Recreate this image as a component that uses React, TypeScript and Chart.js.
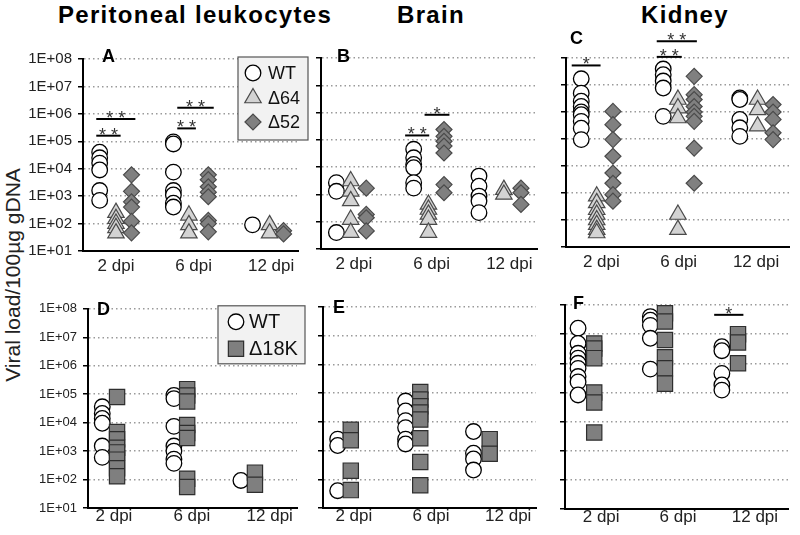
import React, { useEffect, useRef } from 'react';
import { Chart, registerables } from 'chart.js';

Chart.register(...registerables);

// ---------- text ----------
const days = ['2 dpi', '6 dpi', '12 dpi'];
const yTickValues = [1e1, 1e2, 1e3, 1e4, 1e5, 1e6, 1e7, 1e8];
const yTickLabels = ['1E+01', '1E+02', '1E+03', '1E+04', '1E+05', '1E+06', '1E+07', '1E+08'];
const columnTitles = ['Peritoneal leukocytes', 'Brain', 'Kidney'];
const yAxisTitle = 'Viral load/100µg gDNA';
const seriesTop = ['WT', 'Δ64', 'Δ52'];
const seriesBottom = ['WT', 'Δ18K'];

// ---------- data (per day: 2 dpi, 6 dpi, 12 dpi) ----------
// A - Peritoneal leukocytes
const periWT = [[40000, 25000, 16000, 9000, 1600, 700], [95000, 80000, 7500, 1600, 1100, 550, 400], [90]];
const periD64 = [[250, 150, 100, 70, 45], [200, 90, 45], [90, 45]];
const periD52 = [[6000, 1500, 620, 400, 120, 46], [6000, 4000, 2200, 1400, 950, 130, 100, 50], [55, 42]];
// B - Brain
const brainWT = [[2700, 1300, 40], [45000, 22000, 12500, 9500, 2700, 1700], [4700, 2000, 870, 570, 215]];
const brainD64 = [[3100, 1300, 580, 120, 40], [430, 280, 185, 120, 40], [1500, 1000]];
const brainD52 = [[1700, 185, 140, 46], [240000, 135000, 89000, 59000, 33000, 2300, 1150], [1700, 1150, 430]];
// C - Kidney
const kidWT = [[17000000, 5000000, 2500000, 1600000, 1000000, 790000, 450000, 250000, 95000], [39000000, 24000000, 14000000, 7700000, 690000], [3300000, 2900000, 530000, 260000, 125000]];
const kidD64 = [[760, 430, 240, 160, 100, 67, 44, 33], [2900000, 1400000, 600000, 160, 44], [2900000, 1200000, 300000]];
const kidD52 = [[1050000, 340000, 95000, 23000, 5500, 2300, 870, 500], [21000000, 4400000, 2900000, 1600000, 1000000, 690000, 450000, 46000, 2300], [1900000, 1000000, 530000, 170000, 95000]];
// D - Peritoneal leukocytes
const periWT2 = [[36000, 21000, 14000, 9500, 1500, 600], [91000, 70000, 7400, 1500, 1000, 520, 370], [93]];
const periD18K = [[80000, 4700, 2600, 1300, 900, 500, 250, 130], [150000, 90000, 55000, 8300, 4300, 2900, 107, 55], [175, 66]];
// E - Brain
const brainWT2 = [[2500, 1500, 40], [53000, 24000, 11000, 6300, 2500, 1700], [4600, 810, 510, 210]];
const brainD18K = [[5300, 2300, 200, 42], [110000, 60000, 35000, 21000, 12000, 2700, 400, 62], [2500, 770]];
// F - Kidney
const kidWT2 = [[16000000, 4800000, 2200000, 1500000, 1000000, 670000, 350000, 230000, 82000], [40000000, 30000000, 20000000, 7200000, 630000], [3700000, 2700000, 450000, 180000, 120000]];
const kidD18K = [[4800000, 3200000, 1500000, 100000, 45000, 4200], [52000000, 27000000, 6300000, 1600000, 680000, 200000], [10000000, 5200000, 1000000]];

// ---------- styles ----------
const FONT = '"Liberation Sans", Arial, Helvetica, sans-serif';
const STYLES: Record<string, any> = {
  'WT': { shape: 'circle', r: 7.8, bg: '#ffffff', border: '#000000', bw: 1.3 },
  'Δ64': { shape: 'triangle', r: 9.5, bg: '#d3d3d3', border: '#4a4a4a', bw: 1.2 },
  'Δ52': { shape: 'rectRot', r: 8, bg: '#808080', border: '#4a4a4a', bw: 1.2 },
  'Δ18K': { shape: 'rect', r: 10.8, bg: '#7f7f7f', border: '#2e2e2e', bw: 1.2 },
};

const panels = [
  {
    letter: 'A', series: seriesTop, values: [periWT, periD64, periD52],
    slots: [[0.79, 1.74, 2.76], [1.0, 1.94, 2.98], [1.2, 2.19, 3.16]],
    xMin: 0.575, xMax: 3.35, L: 83, R: 307, T: 59, B: 251, W: 83, padTop: 30, padRight: 2, xH: 30,
    yLabels: true, yFont: 15, xPad: 5, letterAt: [19, -2],
    sig: [
      { x1: 0.746, x2: 1.06, y: 1.6e5, text: '* *' },
      { x1: 0.746, x2: 1.25, y: 6.5e5, text: '* *' },
      { x1: 1.79, x2: 2.03, y: 2.95e5, text: '* *' },
      { x1: 1.79, x2: 2.26, y: 1.66e6, text: '* *' },
    ],
    legend: { dx: 155, dy: -2, w: 70, h: 83, mx: 15, tx: 30, rows: [16, 41, 65], font: 18 },
  },
  {
    letter: 'B', series: seriesTop, values: [brainWT, brainD64, brainD52],
    slots: [[0.776, 1.77, 2.61], [0.96, 1.96, 2.93], [1.16, 2.16, 3.15]],
    xMin: 0.578, xMax: 3.36, L: 321, R: 546, T: 58, B: 249, W: 20, padTop: 30, padRight: 2, xH: 30,
    yLabels: false, yFont: 15, xPad: 5, letterAt: [16, -1],
    sig: [
      { x1: 1.66, x2: 1.97, y: 1.45e5, text: '* *' },
      { x1: 1.91, x2: 2.23, y: 8.3e5, text: '*' },
    ],
    legend: null,
  },
  {
    letter: 'C', series: seriesTop, values: [kidWT, kidD64, kidD52],
    slots: [[0.74, 1.8, 2.79], [0.94, 1.99, 3.02], [1.15, 2.2, 3.22]],
    xMin: 0.543, xMax: 3.43, L: 566, R: 799, T: 58, B: 247, W: 20, padTop: 40, padRight: 1, xH: 30,
    yLabels: false, yFont: 15, xPad: 5, letterAt: [4, -19],
    sig: [
      { x1: 0.617, x2: 0.99, y: 5.3e7, text: '*' },
      { x1: 1.716, x2: 2.04, y: 1.1e8, text: '* *' },
      { x1: 1.716, x2: 2.235, y: 4.2e8, text: '* *' },
    ],
    legend: null,
  },
  {
    letter: 'D', series: seriesBottom, values: [periWT2, periD18K],
    slots: [[0.85, 1.77, 2.63], [1.04, 1.94, 2.81]],
    xMin: 0.667, xMax: 3.35, L: 88, R: 307, T: 305, B: 508, W: 88, padTop: 10, padRight: 2, xH: 27,
    yLabels: true, yFont: 13, xPad: -2, letterAt: [9, 1],
    sig: [],
    legend: { dx: 130, dy: -3, w: 87, h: 58, mx: 18, tx: 31, rows: [16, 43], font: 20 },
  },
  {
    letter: 'E', series: seriesBottom, values: [brainWT2, brainD18K],
    slots: [[0.79, 1.67, 2.55], [0.96, 1.86, 2.76]],
    xMin: 0.6, xMax: 3.36, L: 323, R: 546, T: 305, B: 508, W: 20, padTop: 10, padRight: 2, xH: 27,
    yLabels: false, yFont: 13, xPad: -2, letterAt: [10, 1],
    sig: [],
    legend: null,
  },
  {
    letter: 'F', series: seriesBottom, values: [kidWT2, kidD18K],
    slots: [[0.7, 1.64, 2.57], [0.91, 1.83, 2.78]],
    xMin: 0.53, xMax: 3.43, L: 565, R: 799, T: 305, B: 509, W: 20, padTop: 12, padRight: 1, xH: 26,
    yLabels: false, yFont: 13, xPad: -2, letterAt: [8, -1],
    sig: [{ x1: 2.47, x2: 2.85, y: 4.6e7, text: '*' }],
    legend: null,
  },
];

function drawMarker(ctx: CanvasRenderingContext2D, name: string, x: number, y: number) {
  const s = STYLES[name];
  const r = s.r;
  ctx.save();
  ctx.beginPath();
  if (s.shape === 'circle') {
    ctx.arc(x, y, r, 0, Math.PI * 2);
  } else if (s.shape === 'triangle') {
    let a = 0;
    ctx.moveTo(x + Math.sin(a) * r, y - Math.cos(a) * r);
    a += (2 * Math.PI) / 3;
    ctx.lineTo(x + Math.sin(a) * r, y - Math.cos(a) * r);
    a += (2 * Math.PI) / 3;
    ctx.lineTo(x + Math.sin(a) * r, y - Math.cos(a) * r);
    ctx.closePath();
  } else if (s.shape === 'rectRot') {
    ctx.moveTo(x - r, y);
    ctx.lineTo(x, y - r);
    ctx.lineTo(x + r, y);
    ctx.lineTo(x, y + r);
    ctx.closePath();
  } else {
    const h = Math.SQRT1_2 * r;
    ctx.rect(x - h, y - h, 2 * h, 2 * h);
  }
  ctx.fillStyle = s.bg;
  ctx.fill();
  ctx.lineWidth = s.bw;
  ctx.strokeStyle = s.border;
  ctx.stroke();
  ctx.restore();
}

const decorPlugin = {
  id: 'panelDecor',
  afterDatasetsDraw(chart: any, _args: any, opts: any) {
    const { ctx, chartArea: ca } = chart;
    const xs = chart.scales.x;
    const ys = chart.scales.y;
    ctx.save();
    ctx.setLineDash([]);
    // panel letter
    ctx.font = `bold 18px ${FONT}`;
    ctx.fillStyle = '#000';
    ctx.textAlign = 'left';
    ctx.textBaseline = 'middle';
    ctx.fillText(opts.letter, ca.left + opts.letterAt[0], ca.top + opts.letterAt[1]);
    // significance bars
    for (const s of opts.sig) {
      const x1 = xs.getPixelForValue(s.x1);
      const x2 = xs.getPixelForValue(s.x2);
      const yy = ys.getPixelForValue(s.y);
      ctx.strokeStyle = '#000';
      ctx.lineWidth = 2;
      ctx.beginPath();
      ctx.moveTo(x1, yy);
      ctx.lineTo(x2, yy);
      ctx.stroke();
      ctx.font = `18px ${FONT}`;
      ctx.fillStyle = '#333';
      ctx.textAlign = 'center';
      ctx.textBaseline = 'alphabetic';
      ctx.fillText(s.text, (x1 + x2) / 2, yy + 5);
    }
    // legend
    const lg = opts.legend;
    if (lg) {
      const bx = ca.left + lg.dx;
      const by = ca.top + lg.dy;
      ctx.fillStyle = '#f2f2f2';
      ctx.fillRect(bx, by, lg.w, lg.h);
      ctx.strokeStyle = '#555';
      ctx.lineWidth = 1.2;
      ctx.strokeRect(bx, by, lg.w, lg.h);
      opts.series.forEach((name: string, i: number) => {
        const cy = by + lg.rows[i];
        drawMarker(ctx, name, bx + lg.mx, cy);
        ctx.font = `${lg.font}px ${FONT}`;
        ctx.fillStyle = '#111';
        ctx.textAlign = 'left';
        ctx.textBaseline = 'middle';
        ctx.fillText(name, bx + lg.tx, cy + 1);
      });
    }
    ctx.restore();
  },
};

function Panel({ p }: { p: any }) {
  const ref = useRef<HTMLCanvasElement>(null);
  const width = p.W + (p.R - p.L) + p.padRight;
  const height = p.padTop + (p.B - p.T) + p.xH;
  useEffect(() => {
    const datasets = p.series.map((name: string, si: number) => {
      const st = STYLES[name];
      const data: { x: number; y: number }[] = [];
      p.values[si].forEach((dayVals: number[], di: number) => {
        dayVals.forEach((v) => data.push({ x: p.slots[si][di], y: v }));
      });
      return {
        label: name,
        data,
        showLine: false,
        pointStyle: st.shape,
        pointRadius: st.r,
        pointHoverRadius: st.r,
        pointBackgroundColor: st.bg,
        pointBorderColor: st.border,
        pointBorderWidth: st.bw,
        order: p.series.length - si,
        clip: false,
      };
    });
    const chart = new Chart(ref.current as HTMLCanvasElement, {
      type: 'scatter',
      data: { datasets },
      plugins: [decorPlugin],
      options: {
        responsive: false,
        animation: false,
        devicePixelRatio: 1,
        layout: { padding: { top: p.padTop, right: p.padRight, left: 0, bottom: 0 } },
        plugins: {
          legend: { display: false },
          tooltip: { enabled: false },
          panelDecor: { letter: p.letter, letterAt: p.letterAt, sig: p.sig, legend: p.legend, series: p.series },
        } as any,
        scales: {
          x: {
            type: 'linear',
            position: 'bottom',
            min: p.xMin,
            max: p.xMax,
            afterBuildTicks: (s: any) => {
              s.ticks = days.map((_, i) => ({ value: i + 1 }));
            },
            afterFit: (s: any) => {
              s.height = p.xH;
            },
            ticks: {
              autoSkip: false,
              maxRotation: 0,
              padding: p.xPad,
              color: '#222',
              font: { family: FONT, size: 17 },
              callback: (v: any) => days[Math.round(Number(v)) - 1] ?? '',
            },
            grid: { display: false, drawTicks: false },
            border: { display: true, color: '#000', width: 2 },
          },
          y: {
            type: 'logarithmic',
            position: 'left',
            min: yTickValues[0],
            max: yTickValues[yTickValues.length - 1],
            afterBuildTicks: (s: any) => {
              s.ticks = yTickValues.map((v) => ({ value: v }));
            },
            afterFit: (s: any) => {
              s.width = p.W;
            },
            ticks: {
              display: p.yLabels,
              autoSkip: false,
              padding: 6,
              color: '#222',
              font: { family: FONT, size: p.yFont },
              callback: (v: any) => {
                const i = yTickValues.indexOf(Number(v));
                return i >= 0 ? yTickLabels[i] : '';
              },
            },
            grid: {
              color: (c: any) => (c.tick && c.tick.value === yTickValues[0] ? 'rgba(0,0,0,0)' : '#9a9a9a'),
              lineWidth: 1.5,
              drawTicks: true,
              tickLength: 5,
              tickColor: '#000',
              tickWidth: 1.5,
              tickBorderDash: [],
            },
            border: { display: true, color: '#000', width: 2, dash: [1.5, 3] },
          },
        },
      } as any,
    });
    return () => chart.destroy();
  }, []);
  return (
    <canvas
      ref={ref}
      width={width}
      height={height}
      style={{ position: 'absolute', left: p.L - p.W, top: p.T - p.padTop, width, height }}
    />
  );
}

export default function App() {
  const titleX = [195, 431, 685];
  return (
    <div
      style={{
        position: 'absolute',
        left: 0,
        top: 0,
        width: 800,
        height: 535,
        overflow: 'hidden',
        background: '#ffffff',
        fontFamily: FONT,
      }}
    >
      {columnTitles.map((t, i) => (
        <div
          key={t}
          style={{
            position: 'absolute',
            left: titleX[i],
            top: 2.5,
            transform: 'translateX(-50%)',
            fontWeight: 'bold',
            fontSize: 24,
            lineHeight: '24px',
            letterSpacing: '1.3px',
            whiteSpace: 'nowrap',
            color: '#000',
          }}
        >
          {t}
        </div>
      ))}
      <div
        style={{
          position: 'absolute',
          left: 12.5,
          top: 275,
          transform: 'translate(-50%, -50%) rotate(-90deg)',
          fontSize: 21,
          lineHeight: '24px',
          whiteSpace: 'nowrap',
          color: '#222',
        }}
      >
        {yAxisTitle}
      </div>
      {panels.map((p) => (
        <Panel key={p.letter} p={p} />
      ))}
    </div>
  );
}
